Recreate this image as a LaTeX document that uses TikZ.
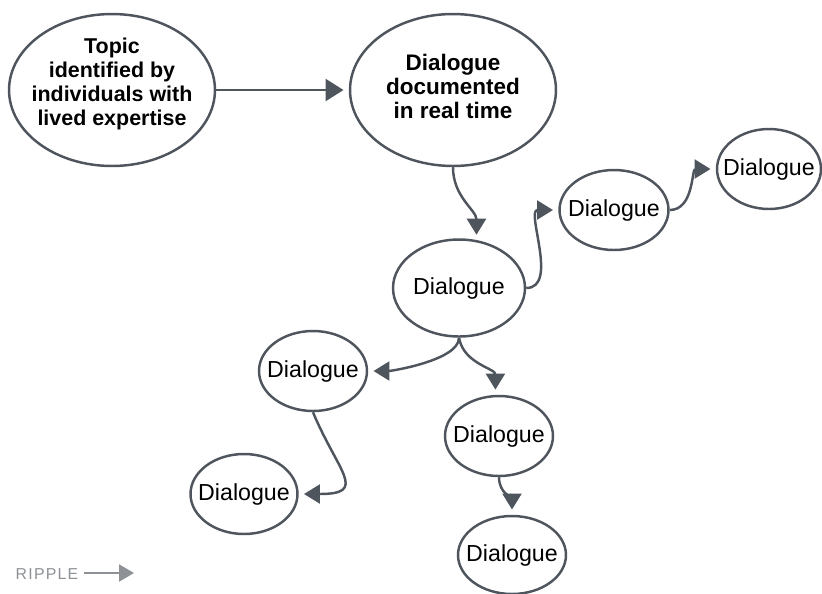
\documentclass[tikz,border=0pt]{standalone}
\usepackage{fontspec}
\setmainfont{Liberation Sans}
\usetikzlibrary{arrows.meta,shapes.geometric}
\definecolor{trait}{HTML}{4F555D}
\definecolor{logo}{HTML}{8E9196}

\begin{document}
\begin{tikzpicture}[x=0.02cm,y=-0.02cm]
      \tikzstyle{bulle}=[ellipse, draw=trait, line width=1.4pt, inner sep=-8pt, align=center, text=black]
      \tikzstyle{grande}=[bulle, minimum width=4.12cm, minimum height=3.04cm]
      \tikzstyle{petite}=[bulle, minimum width=2.16cm, minimum height=1.6cm, font=\fontsize{13.2}{15}\selectfont]
      \tikzstyle{fleche}=[-{Triangle[length=0.32cm,width=0.38cm]}, draw=trait, line width=1.4pt, shorten >=3pt]

      \useasboundingbox (0,0) rectangle (822,593);

      \node[grande, text depth=9.5pt, font=\bfseries\fontsize{12.2}{13.8}\selectfont] (Topic) at (112,90) {Topic\\identified by\\individuals with\\lived expertise};
      \node[grande, text depth=4pt, font=\bfseries\fontsize{12.8}{13.7}\selectfont] (Doc) at (453,90) {Dialogue\\documented\\in real time};
      \node[petite, minimum width=2.64cm, minimum height=1.94cm] (D2) at (459,288) {Dialogue};
      \node[petite, minimum width=2.18cm] (D3) at (614,210) {Dialogue};
      \node[petite, minimum width=2.08cm] (D4) at (769,169) {Dialogue};
      \node[petite] (D5) at (313,371) {Dialogue};
      \node[petite] (D6) at (499,436) {Dialogue};
      \node[petite, minimum width=2.14cm] (D7) at (244,494) {Dialogue};
      \node[petite, minimum width=2.16cm, minimum height=1.56cm] (D8) at (512,555) {Dialogue};

      \draw[fleche, -{Triangle[length=0.36cm,width=0.44cm]}] (Topic)--(Doc);
      \draw[fleche] (Doc.south) to[out=-90,in=90] (D2.70);
      \draw[fleche] (D2.east) to[out=0,in=180] (D3.west);
      \draw[fleche] (D3.east) to[out=0,in=180] (D4.west);
      \draw[fleche] (D2.south) to[out=-90,in=0,looseness=0.6] (D5.east);
      \draw[fleche] (D2.south) to[out=-80,in=90] (D6.95);
      \draw[fleche] (D5.south) .. controls +(25,60) and +(70,0) .. (D7.east);
      \draw[fleche] (D6.south) to[out=-90,in=90] (D8.north);

      % logo
      \node[text=logo, inner sep=0pt, font=\fontsize{9}{10}\selectfont\addfontfeature{LetterSpace=8}] (ripple) at (47,574) {RIPPLE};
      \coordinate (bout) at (134,573);
      \draw[-{Triangle[length=0.3cm,width=0.34cm]}, draw=logo, line width=1.2pt, shorten <=3pt] (ripple.east |- bout)--(bout);

    \end{tikzpicture}
\end{document}
